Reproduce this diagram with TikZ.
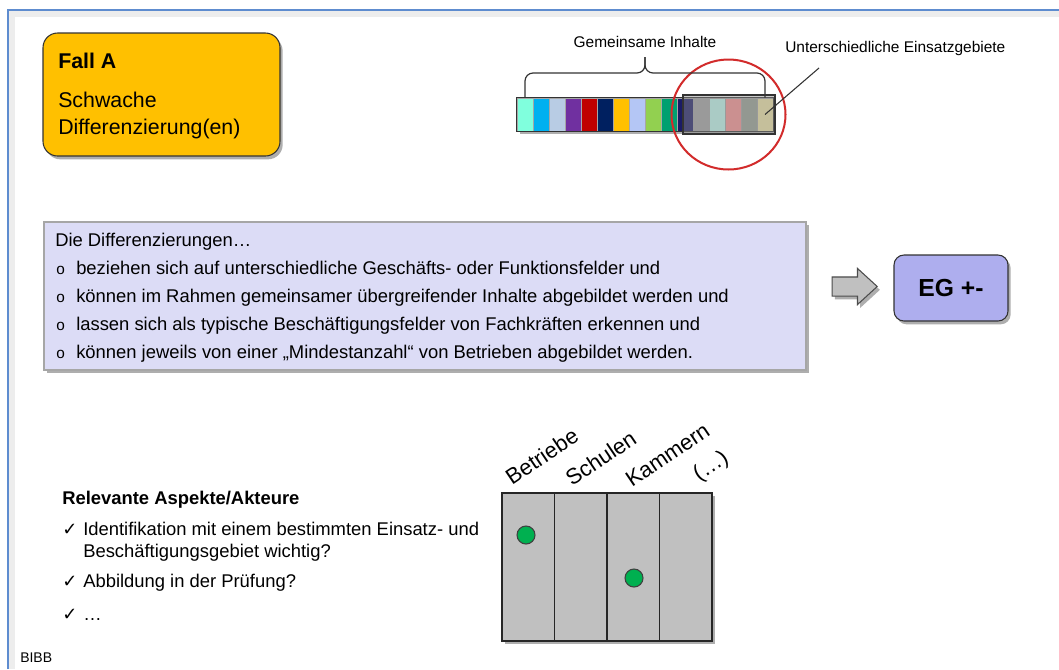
\documentclass[tikz,border=0pt]{standalone}
\usepackage{fontspec}
\setmainfont{Liberation Sans}
\newfontfamily\symbfont{DejaVu Sans}
\usetikzlibrary{positioning,calc,shapes.arrows,shapes.geometric,shadows}
\definecolor{fgelb}{HTML}{FFC000}
\definecolor{lav}{HTML}{DCDCF6}
\definecolor{egb}{HTML}{AEAEEE}
\definecolor{grz}{HTML}{C0C0C0}
\definecolor{grn}{HTML}{00B050}
\definecolor{krot}{HTML}{D22B2B}
\definecolor{fblau}{HTML}{5E8CCF}
\definecolor{kante}{HTML}{333333}
\definecolor{s1}{HTML}{80FFDD}
\definecolor{s2}{HTML}{00B0F0}
\definecolor{s3}{HTML}{B8CCE4}
\definecolor{s4}{HTML}{7030A0}
\definecolor{s5}{HTML}{C00000}
\definecolor{s6}{HTML}{002060}
\definecolor{s7}{HTML}{FFC000}
\definecolor{s8}{HTML}{B4C6F5}
\definecolor{s9}{HTML}{92D050}
\definecolor{s10}{HTML}{00A070}
\definecolor{s11}{HTML}{1B1B66}
\definecolor{s12}{HTML}{A6A6A6}
\definecolor{s13}{HTML}{C4FFF5}
\definecolor{s14}{HTML}{FF9494}
\definecolor{s15}{HTML}{9AA296}
\definecolor{s16}{HTML}{F5E9A8}
\tikzset{
  shd/.style={drop shadow={shadow xshift=2pt, shadow yshift=-2.5pt, opacity=.45, fill=black!70}},
  box/.style={draw=kante, line width=.8pt, rounded corners=11pt, shd},
  txt/.style={anchor=base west, inner sep=0pt},
  zelle/.style={draw=black!35, line width=.4pt, minimum width=12pt, minimum height=24.75pt, inner sep=0pt},
  spalte/.style={draw=black!85, fill=grz, line width=1.1pt, minimum width=39.375pt, minimum height=111pt, inner sep=0pt},
  punkt/.style={circle, draw=black!75, fill=grn, minimum size=13.5pt, inner sep=0pt, line width=.8pt},
  kopf/.style={anchor=base west, inner sep=0pt, rotate=34, font=\fontsize{16.5}{18}\selectfont},
  klein/.style={font=\fontsize{11.6}{13}\selectfont}}

\begin{document}
\begin{tikzpicture}[x=0.75pt, y=-0.75pt, font=\fontsize{13.8}{16}\selectfont]
\useasboundingbox (0,0) rectangle (1059,669);
\fill[white] (0,0) rectangle (1059,669);
\draw[black!7, line width=5pt] (11.5,669) |- (1059,13.5);
\draw[fblau, line width=1.6pt] (8,669) |- (1059,10);
% Fall A
\node[box, fill=fgelb, minimum width=177.75pt, minimum height=92.25pt] (fall) at (161.5,94.5) {};
\node[txt, font=\bfseries\fontsize{16}{18}\selectfont] (falltit) at (58,68) {Fall A};
\node[txt, font=\fontsize{16}{18}\selectfont] (fall1) at (58,107) {Schwache};
\node[txt, font=\fontsize{16}{18}\selectfont] (fall2) at (58,134) {Differenzierung(en)};
% Leiste
\fill[white, shd] (517,98) rectangle (773,131);
\foreach \f [count=\i] in {s1,s2,s3,s4,s5,s6,s7,s8,s9,s10,s11,s12,s13,s14,s15,s16}
  \node[zelle, fill=\f] (c\i) at ({525+16*(\i-1)},114.5) {};
\draw[kante, line width=.8pt] (c1.north west) rectangle (c16.south east);
\node[draw=kante, line width=1pt, fill=black!45, fill opacity=.45, minimum width=69pt, minimum height=29.25pt, inner sep=0pt] (ueber) at (729,114.5) {};
\node[ellipse, draw=krot, line width=1.5pt, minimum width=85.5pt, minimum height=82.5pt] (kreis) at (728.5,114.5) {};
\coordinate (spitze) at (645,57);
\draw[kante, line width=.9pt, rounded corners=6pt] (c1.north) |- ($(spitze)+(0,16)$) -- (spitze);
\draw[kante, line width=.9pt, rounded corners=6pt] (c16.north) |- ($(spitze)+(0,16)$) -- (spitze);
\node[klein, anchor=base, inner sep=0pt] (gem) at (645,47) {Gemeinsame Inhalte};
\node[klein, txt] (einsatz) at (785,52) {Unterschiedliche Einsatzgebiete};
\coordinate (zeig) at (819,68);
\draw[kante, line width=.8pt] (c16.center) -- (zeig);
% Textkasten
\node[draw=black!35, line width=.8pt, fill=lav, shd, minimum width=571.5pt, minimum height=111pt] (diff) at (425,296) {};
\node[txt] (dtit) at (55,246) {Die Differenzierungen…};
\foreach \t [count=\i] in {{beziehen sich auf unterschiedliche Geschäfts- oder Funktionsfelder und},
  {können im Rahmen gemeinsamer übergreifender Inhalte abgebildet werden und},
  {lassen sich als typische Beschäftigungsfelder von Fachkräften erkennen und},
  {können jeweils von einer „Mindestanzahl“ von Betrieben abgebildet werden.}}{
  \node[txt, font=\fontsize{11.5}{12}\selectfont] (o\i) at (56,{246+28*\i}) {o};
  \node[txt] (d\i) at (76,{246+28*\i}) {\t};}
\node[single arrow, draw=black!70, fill=grz, line width=.8pt, shd, minimum height=33.75pt, inner xsep=0pt, inner ysep=6.75pt, single arrow head extend=6.4pt, single arrow tip angle=85, single arrow head indent=0pt] (pfeil) at (849.5,286.5) {};
\node[box, fill=egb, rounded corners=7.5pt, minimum width=85.5pt, minimum height=49.5pt, font=\bfseries\fontsize{18.5}{20}\selectfont] (eg) at (951,288) {EG +-};
% Aspekte
\node[txt, font=\bfseries\fontsize{13.8}{16}\selectfont] (rel) at (62,504) {Relevante Aspekte/Akteure};
\foreach \t/\y [count=\i] in {{Identifikation mit einem bestimmten Einsatz- und}/535, {Abbildung in der Prüfung?}/587, {…}/620}{
  \node[txt, font=\symbfont\fontsize{13.5}{15}\selectfont] (h\i) at (62,\y) {✓};
  \node[txt] (a\i) at (83,\y) {\t};}
\node[txt] (a1b) at (83,557) {Beschäftigungsgebiet wichtig?};
% Raster
\foreach \n/\x/\y [count=\i] in {Betriebe/512/486, Schulen/572/487, Kammern/632/488, (…)/699/482}{
  \node[spalte, shd] (sp\i) at ({528.25+52.5*(\i-1)},567) {};
  \node[kopf] (k\i) at (\x,\y) {\n};}
\node[punkt] (p1) at (526,535) {};
\node[punkt] (p2) at (634,578) {};
\node[txt, font=\fontsize{10.5}{12}\selectfont] (bibb) at (20,662) {BIBB};
\end{tikzpicture}
\end{document}
